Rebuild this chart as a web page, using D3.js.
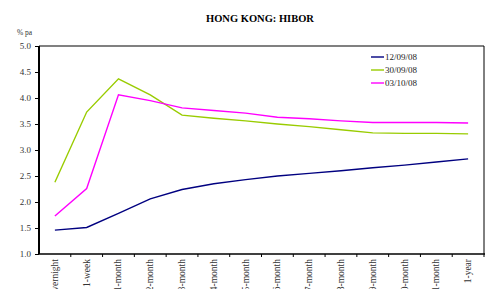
<!DOCTYPE html>
<html>
<head>
<meta charset="utf-8">
<script src="https://cdn.jsdelivr.net/npm/d3@7/dist/d3.min.js"></script>
<style>
	body { margin: 0; background: #fff; }
	svg { display: block; }
</style>
</head>
<body>
<div id="div_id_main"></div>
<script>

// ---- data ------------------------------------------------

const vTenors = ["Overnight", "1-week", "1-month", "2-month", "3-month", "4-month", "5-month",
				 "6-month", "7-month", "8-month", "9-month", "10-month", "11-month", "1-year"];

const vRates_120908 = [1.46, 1.51, 1.78, 2.06, 2.24, 2.35, 2.43, 2.50, 2.55, 2.60, 2.66, 2.71, 2.77, 2.83];
const vRates_300908 = [2.38, 3.73, 4.37, 4.06, 3.67, 3.61, 3.56, 3.50, 3.45, 3.39, 3.33, 3.32, 3.32, 3.31];
const vRates_031008 = [1.73, 2.26, 4.06, 3.95, 3.81, 3.76, 3.71, 3.63, 3.60, 3.56, 3.53, 3.53, 3.53, 3.52];

const vSeriesNames = ["12/09/08", "30/09/08", "03/10/08"];
const vYTicks = [1.0, 1.5, 2.0, 2.5, 3.0, 3.5, 4.0, 4.5, 5.0];

// ---- layout ----------------------------------------------

const WIDTH = 490, HEIGHT = 289;
const PLOT_L = 39, PLOT_R = 484, PLOT_T = 46, PLOT_B = 254;
const FONT = "Liberation Serif, DejaVu Serif, serif";

const vColors = ["#000080", "#99CC00", "#FF00FF"];

let svgMain = d3.select("#div_id_main")
				.append("svg")
					.attr("width", WIDTH)
					.attr("height", HEIGHT)
					.attr("font-family", FONT);

let fScale_X = d3.scaleBand()
					.domain(vTenors)
					.range([PLOT_L, PLOT_R]);

let fScale_Y = d3.scaleLinear()
					.domain([1, 5])
					.range([PLOT_B, PLOT_T]);

// title
svgMain.append("text")
			.attr("x", 260)
			.attr("y", 22)
			.attr("text-anchor", "middle")
			.attr("font-size", "10.5px")
			.attr("font-weight", "bold")
			.text("HONG KONG: HIBOR");

svgMain.append("text")
			.attr("x", 17)
			.attr("y", 35)
			.attr("font-size", "7.5px")
			.attr("fill", "#333")
			.text("% pa");

// top and right frame
svgMain.append("line")
			.attr("x1", PLOT_L).attr("x2", PLOT_R)
			.attr("y1", PLOT_T).attr("y2", PLOT_T)
			.attr("stroke", "#808080")
			.attr("stroke-width", 2);

svgMain.append("line")
			.attr("x1", PLOT_R).attr("x2", PLOT_R)
			.attr("y1", PLOT_T).attr("y2", PLOT_B)
			.attr("stroke", "#000")
			.attr("stroke-width", 1);

// y axis
let gY = svgMain.append("g")
			.attr("transform", "translate(" + PLOT_L + ",0)")
			.call(d3.axisLeft(fScale_Y)
					.tickValues(vYTicks)
					.tickFormat(d3.format(".1f"))
					.tickSize(4)
					.tickPadding(4))
			.attr("font-family", FONT)
			.attr("font-size", "9px");

gY.select(".domain").attr("stroke-width", 2).attr("d", "M0," + PLOT_T + "V" + PLOT_B);
gY.selectAll("text").attr("fill", "#333");

// x axis
let gX = svgMain.append("g")
			.attr("transform", "translate(0," + PLOT_B + ")")
			.call(d3.axisBottom(fScale_X).tickSize(0).tickPadding(0))
			.attr("font-family", FONT)
			.attr("font-size", "9.5px");

gX.select(".domain").attr("stroke-width", 1.5).attr("d", "M" + PLOT_L + ",0H" + (PLOT_R + 1));

// tick marks between categories
gX.selectAll("line.line_class_xtick")
		.data(vTenors)
		.enter()
			.append("line")
				.attr("class", "line_class_xtick")
				.attr("x1", function(d) { return fScale_X(d) + fScale_X.bandwidth(); })
				.attr("x2", function(d) { return fScale_X(d) + fScale_X.bandwidth(); })
				.attr("y1", 0)
				.attr("y2", 3)
				.attr("stroke", "#000");

gX.selectAll(".tick text")
		.attr("fill", "#333")
		.attr("text-anchor", "end")
		.attr("dy", 0)
		.attr("transform", "translate(3,5) rotate(-90)");

// lines
const vSeries = [vRates_120908, vRates_300908, vRates_031008];

let fLine = d3.line()
				.x(function(d, i) { return fScale_X(vTenors[i]) + fScale_X.bandwidth() / 2; })
				.y(function(d) { return fScale_Y(d); });

svgMain.selectAll("path.path_class_series")
		.data(vSeries)
		.enter()
			.append("path")
				.attr("class", "path_class_series")
				.attr("fill", "none")
				.attr("stroke", function(d, i) { return vColors[i]; })
				.attr("stroke-width", 1.4)
				.attr("d", fLine);

// legend
let gLegend = svgMain.append("g")
			.attr("transform", "translate(371,57)");

vSeriesNames.forEach(function(name, i) {

	gLegend.append("line")
				.attr("x1", 0).attr("x2", 13)
				.attr("y1", i * 13).attr("y2", i * 13)
				.attr("stroke", vColors[i])
				.attr("stroke-width", 1.4);

	gLegend.append("text")
				.attr("x", 14)
				.attr("y", i * 13 + 3)
				.attr("font-size", "9px")
				.attr("fill", "#222")
				.text(name);
});

</script>
</body>
</html>
